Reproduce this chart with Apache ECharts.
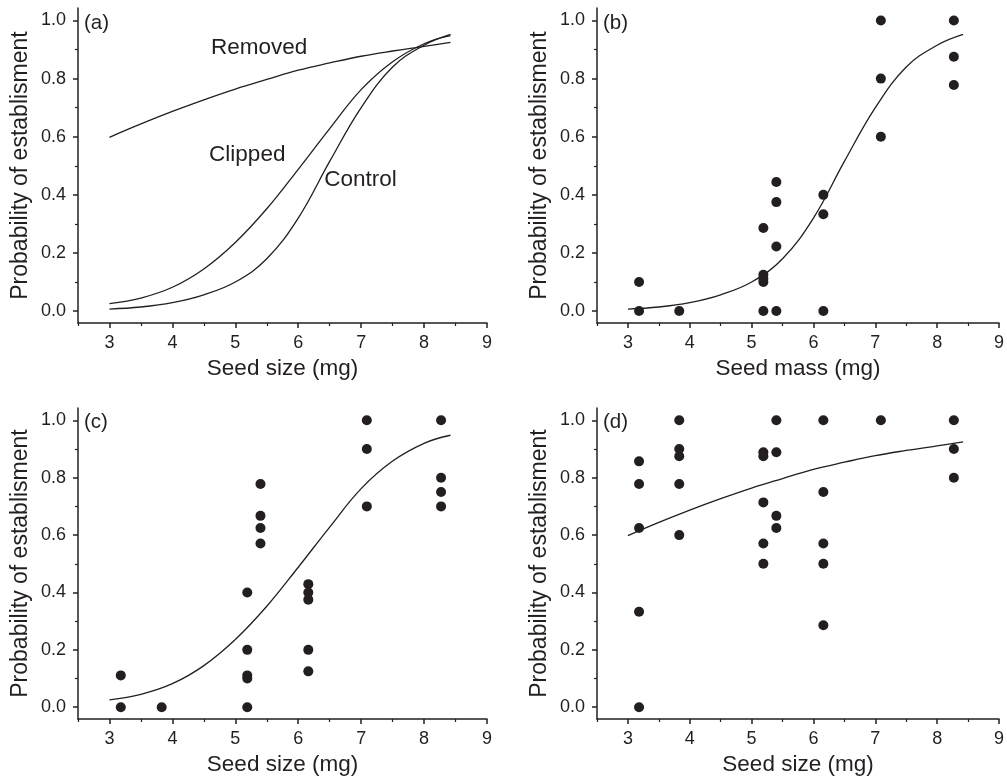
<!DOCTYPE html>
<html>
<head>
<meta charset="utf-8">
<script src="https://cdn.jsdelivr.net/npm/echarts@6/dist/echarts.min.js"></script>
<style>
  html, body { margin: 0; padding: 0; background: #fff; }
  #chart { width: 1007px; height: 777px; }
</style>
</head>
<body>
<div id="chart"></div>
<script>
// fitted curves
var curveX = [3, 3.5, 4, 4.5, 5, 5.5, 6, 6.5, 7, 7.5, 8, 8.42]
var removedY = [0.598, 0.644, 0.687, 0.727, 0.764, 0.797, 0.829, 0.854, 0.877, 0.895, 0.911, 0.925]
var clippedY = [0.026, 0.045, 0.082, 0.145, 0.236, 0.352, 0.488, 0.628, 0.762, 0.858, 0.92, 0.948]
var controlY = [0.007, 0.014, 0.029, 0.056, 0.1, 0.18, 0.32, 0.515, 0.7, 0.84, 0.915, 0.952]

// observed points
var sizeB = [3.18, 3.18, 3.83, 5.19, 5.19, 5.19, 5.19, 5.19, 5.4, 5.4, 5.4, 5.4, 6.16, 6.16, 6.16, 7.09, 7.09, 7.09, 8.27, 8.27, 8.27]
var probB = [0.1, 0, 0, 0.286, 0.125, 0.111, 0.1, 0, 0.444, 0.375, 0.222, 0, 0.4, 0.333, 0, 1, 0.8, 0.6, 1, 0.875, 0.778]

var sizeC = [3.18, 3.18, 3.83, 5.19, 5.19, 5.19, 5.19, 5.19, 5.4, 5.4, 5.4, 5.4, 6.16, 6.16, 6.16, 6.16, 6.16, 7.09, 7.09, 7.09, 8.27, 8.27, 8.27, 8.27]
var probC = [0.111, 0, 0, 0.4, 0.2, 0.111, 0.1, 0, 0.778, 0.667, 0.625, 0.571, 0.429, 0.4, 0.375, 0.2, 0.125, 1, 0.9, 0.7, 1, 0.8, 0.75, 0.7]

var sizeD = [3.18, 3.18, 3.18, 3.18, 3.18, 3.83, 3.83, 3.83, 3.83, 3.83, 5.19, 5.19, 5.19, 5.19, 5.19, 5.4, 5.4, 5.4, 5.4, 6.16, 6.16, 6.16, 6.16, 6.16, 7.09, 8.27, 8.27, 8.27]
var probD = [0.857, 0.778, 0.625, 0.333, 0, 1, 0.9, 0.875, 0.778, 0.6, 0.889, 0.875, 0.714, 0.571, 0.5, 1, 0.889, 0.667, 0.625, 1, 0.75, 0.571, 0.5, 0.286, 1, 1, 0.9, 0.8]

// ticks
var xMajor = [3, 4, 5, 6, 7, 8, 9]
var xMinor = [2.5, 3.5, 4.5, 5.5, 6.5, 7.5, 8.5]
var yMajor = [0, 0.2, 0.4, 0.6, 0.8, 1.0]
var yMinor = [0.1, 0.3, 0.5, 0.7, 0.9]

var panelLabels = ['(a)', '(b)', '(c)', '(d)']
var xNames = ['Seed size (mg)', 'Seed mass (mg)', 'Seed size (mg)', 'Seed size (mg)']
var yName = 'Probability of establisment'

// text on panel (a)
var annoText = ['Removed', 'Clipped', 'Control']
var annoX = [5.38, 5.19, 6.99]
var annoY = [0.906, 0.538, 0.452]

var ink = '#231f20'
var font = 'Liberation Sans, Arial, sans-serif'

function zip (xs, ys) {
  return xs.map(function (x, i) { return [x, ys[i]] })
}

var grids = [
  {left: 78, top: 8, right: 520, bottom: 454},
  {left: 597, top: 8, right: 2, bottom: 454},
  {left: 78, top: 408, right: 520, bottom: 56},
  {left: 597, top: 408, right: 2, bottom: 56}
]

var xAxes = []
var yAxes = []
grids.forEach(function (g, gi) {
  xAxes.push({
    type: 'value', gridIndex: gi, position: 'bottom', min: 2.5, max: 9,
    axisLine: {show: true, onZero: false, lineStyle: {color: ink, width: 1.5}},
    axisTick: {show: true, customValues: xMajor, length: 5, lineStyle: {color: ink, width: 1.5}},
    axisLabel: {customValues: xMajor, fontSize: 18, color: ink, margin: 11, fontFamily: font},
    splitLine: {show: false},
    name: xNames[gi], nameLocation: 'middle', nameGap: 34,
    nameTextStyle: {fontSize: 22.5, color: ink, fontFamily: font}
  })
  xAxes.push({
    type: 'value', gridIndex: gi, position: 'bottom', offset: 0, min: 2.5, max: 9,
    axisLine: {show: false, onZero: false},
    axisTick: {show: true, customValues: xMinor, length: 3, lineStyle: {color: ink, width: 1.2}},
    axisLabel: {show: false},
    splitLine: {show: false}
  })
  yAxes.push({
    type: 'value', gridIndex: gi, position: 'left', min: -0.041, max: 1.043,
    axisLine: {show: true, onZero: false, lineStyle: {color: ink, width: 1.5}},
    axisTick: {show: true, customValues: yMajor, length: 5, lineStyle: {color: ink, width: 1.5}},
    axisLabel: {
      customValues: yMajor, fontSize: 18, color: ink, margin: 12, fontFamily: font,
      formatter: function (v) { return v.toFixed(1) }
    },
    splitLine: {show: false},
    name: yName, nameLocation: 'middle', nameGap: 46,
    nameTextStyle: {fontSize: 23, color: ink, fontFamily: font}
  })
  yAxes.push({
    type: 'value', gridIndex: gi, position: 'left', offset: 0, min: -0.041, max: 1.043,
    axisLine: {show: false, onZero: false},
    axisTick: {show: true, customValues: yMinor, length: 3, lineStyle: {color: ink, width: 1.2}},
    axisLabel: {show: false},
    splitLine: {show: false}
  })
})

function curve (gi, ys) {
  return {
    type: 'line', xAxisIndex: gi * 2, yAxisIndex: gi * 2,
    data: zip(curveX, ys), smooth: 0.4, showSymbol: false, silent: true,
    lineStyle: {color: ink, width: 1.3}
  }
}

function dots (gi, xs, ys) {
  return {
    type: 'scatter', xAxisIndex: gi * 2, yAxisIndex: gi * 2,
    data: zip(xs, ys), symbolSize: 10, silent: true,
    itemStyle: {color: ink, opacity: 1}
  }
}

var series = [
  curve(0, removedY), curve(0, clippedY), curve(0, controlY),
  {
    type: 'scatter', xAxisIndex: 0, yAxisIndex: 0, silent: true,
    data: annoX.map(function (x, i) { return [x, annoY[i], annoText[i]] }),
    symbolSize: 1, itemStyle: {color: 'rgba(0,0,0,0)', opacity: 1},
    label: {
      show: true, position: 'inside', color: ink, fontSize: 22.5, fontFamily: font,
      formatter: function (p) { return p.data[2] }
    }
  },
  curve(1, controlY), dots(1, sizeB, probB),
  curve(2, clippedY), dots(2, sizeC, probC),
  curve(3, removedY), dots(3, sizeD, probD)
]

var labelPos = [[84, 13], [603, 13], [84, 412], [603, 412]]
var titles = panelLabels.map(function (t, i) {
  return {
    text: t, left: labelPos[i][0], top: labelPos[i][1], padding: 0,
    textStyle: {fontSize: 20.5, fontWeight: 'normal', color: ink, fontFamily: font}
  }
})

var myChart = echarts.init(document.getElementById('chart'))
myChart.setOption({
  backgroundColor: '#fff',
  animation: false,
  title: titles,
  grid: grids,
  xAxis: xAxes,
  yAxis: yAxes,
  series: series
})
</script>
</body>
</html>
